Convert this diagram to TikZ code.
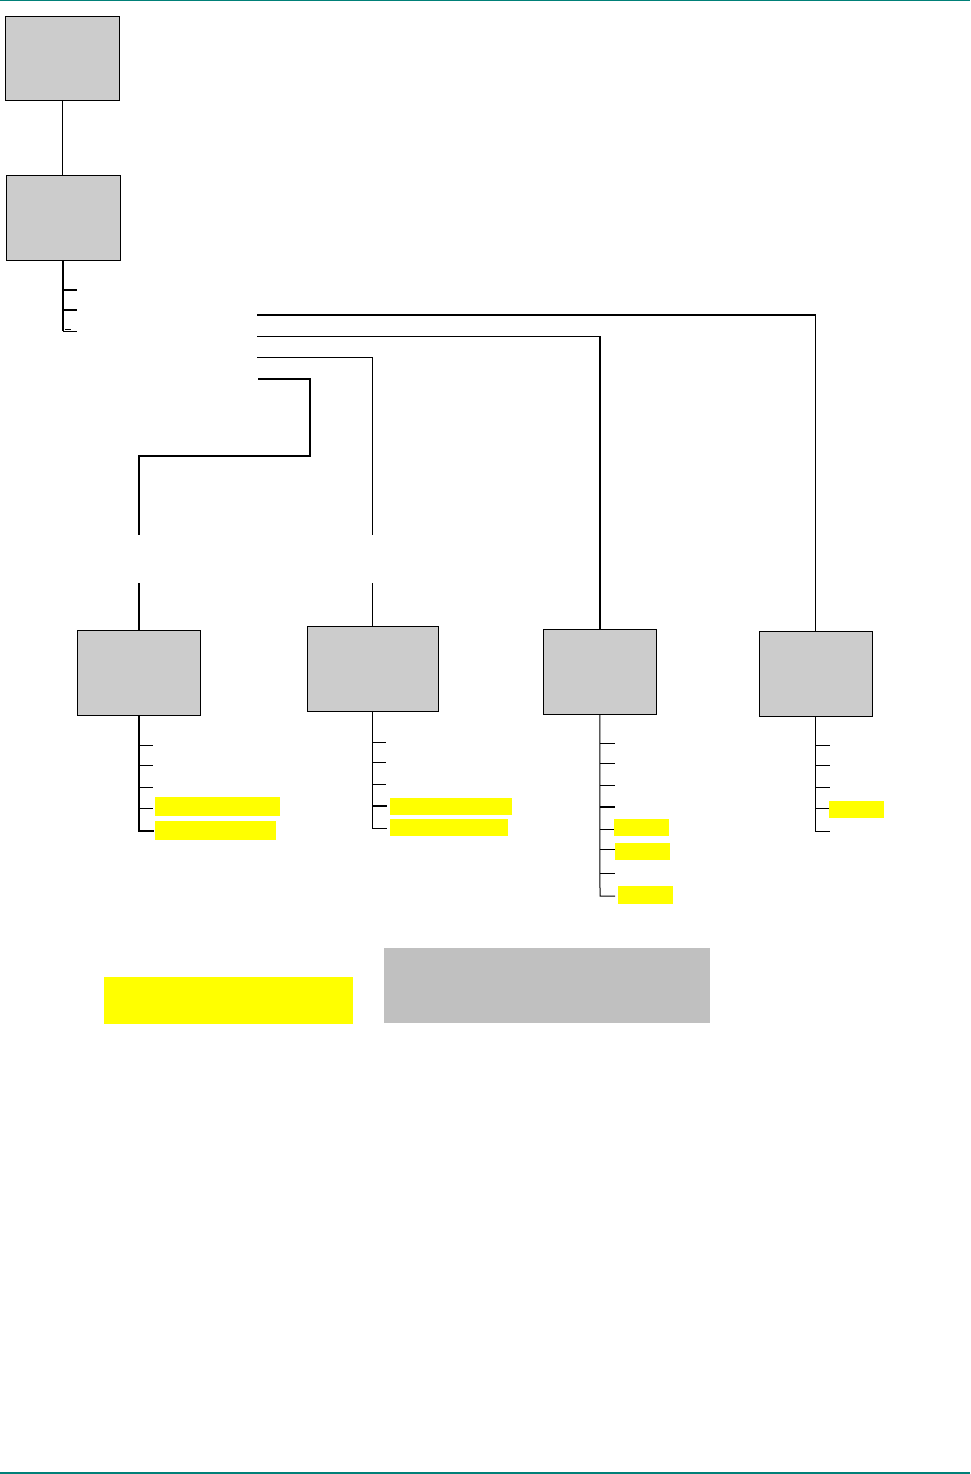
\documentclass[tikz,border=0pt]{standalone}
\definecolor{boxgray}{RGB}{204,204,204}
\definecolor{notegray}{RGB}{192,192,192}
\definecolor{hlyellow}{RGB}{255,255,0}
\definecolor{rule}{RGB}{0,128,120}
\begin{document}
\begin{tikzpicture}[x=1pt,y=-1pt,
  box/.style={draw=black,fill=boxgray,line width=1pt,inner sep=0pt,outer sep=0pt},
  hl/.style={fill=hlyellow,draw=none,inner sep=0pt,outer sep=0pt},
  thin/.style={line width=1pt},
  thick2/.style={line width=2pt}]
\useasboundingbox (0,0) rectangle (970,1474);
\fill[rule] (0,0) rectangle (970,1.5);
\fill[rule] (0,1472) rectangle (970,1474);

% boxes
\node[box,minimum width=114pt,minimum height=84.5pt] (A) at (62.5,58.75) {};
\node[box,minimum width=114pt,minimum height=85pt] (B) at (63.3,217.7) {};
\node[box,minimum width=123pt,minimum height=85pt] (C) at (138.8,672.8) {};
\node[box,minimum width=131pt,minimum height=85pt] (D) at (372.8,668.8) {};
\node[box,minimum width=113pt,minimum height=85pt] (E) at (599.8,671.8) {};
\node[box,minimum width=113pt,minimum height=85pt] (F) at (815.8,673.8) {};

% A to B
\draw[thin] (A.south) -- (A.south |- B.north);

% bus under B
\coordinate (Bb) at (63,331);
\draw[thick2] (B.south -| 63,0) -- (Bb);
\draw[thick2] (63,290) -- (77,290);
\draw[thick2] (63,310) -- (77,310);
\draw[thin] (Bb) -- (77,331);
\draw[thin] (65,329) -- (71,329);

% long connectors
\coordinate (s1) at (257,315);
\coordinate (s2) at (257,336);
\coordinate (s3) at (257,357);
\coordinate (s4) at (258,379);
\draw[thick2] (s1) -- (815.8,315);
\draw[thin] (815.8,315) -- (F.north);
\draw[thin] (s2) -- (600,336);
\draw[thick2] (600,336) -- (E.north -| 600,0);
\coordinate (d1) at (372.8,535);
\coordinate (d2) at (372.8,583);
\draw[thin] (s3) -- (372.8,357) -- (d1);
\draw[thin] (d2) -- (D.north);
\coordinate (c1) at (138.8,535);
\coordinate (c2) at (138.8,583);
\draw[thick2] (s4) -- (310,379) -- (310,456) -- (138.8,456) -- (c1);
\draw[thick2] (c2) -- (C.north);

% bus C
\draw[thick2] (C.south) -- (138.8,831) -- (153.5,831);
\foreach \y in {745,765,787,808} \draw[thin] (138.8,\y) -- (153,\y);
\node[hl,minimum width=125pt,minimum height=18.7pt] (c4) at (217.5,806.3) {};
\node[hl,minimum width=121pt,minimum height=18.7pt] (c5) at (215.5,830.3) {};

% bus D
\draw[thin] (D.south) -- (372.8,828.3) -- (387,828.3);
\foreach \y in {742.3,762.3,784} \draw[thin] (372.8,\y) -- (386,\y);
\draw[thick2] (372.8,806) -- (387,806);
\node[hl,minimum width=121.7pt,minimum height=17pt] (d4) at (450.8,806.5) {};
\node[hl,minimum width=117.7pt,minimum height=16.7pt] (d5) at (448.8,827.3) {};

% bus E
\draw[thin] (E.south) -- (600,896) -- (615,896);
\foreach \y in {743.3,763.3,785,829.3,849.3,873.3} \draw[thin] (600,\y) -- (615,\y);
\draw[thick2] (600,806.7) -- (615,806.7);
\node[hl,minimum width=55pt,minimum height=16.7pt] (e5) at (641.5,827.3) {};
\node[hl,minimum width=55pt,minimum height=16.7pt] (e6) at (642.5,851.3) {};
\node[hl,minimum width=55pt,minimum height=18pt] (e8) at (645.5,894.7) {};

% bus F
\draw[thin] (F.south) -- (815.8,831) -- (829.7,831);
\foreach \y in {745.3,765.3,787.3,808.3} \draw[thin] (815.8,\y) -- (829.7,\y);
\node[hl,minimum width=54.7pt,minimum height=16.7pt] (f4) at (856.4,809.4) {};

% legend blocks
\node[hl,minimum width=249pt,minimum height=47pt] (legY) at (228.5,1000.5) {};
\node[fill=notegray,draw=none,inner sep=0pt,minimum width=326pt,minimum height=75pt] (legG) at (547,985.5) {};
\end{tikzpicture}
\end{document}
